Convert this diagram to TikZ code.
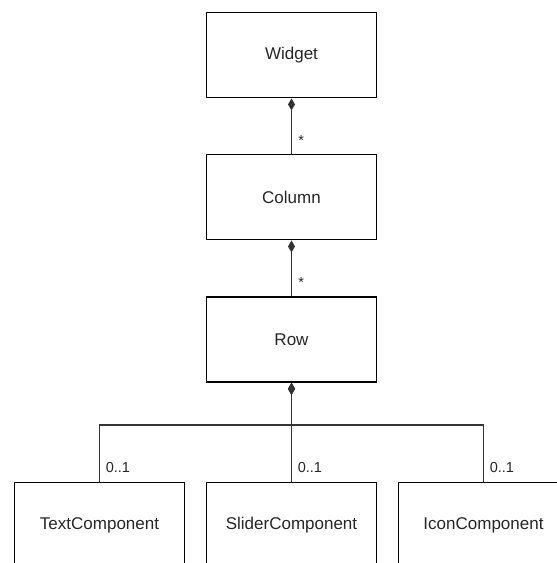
\documentclass[tikz,border=0pt]{standalone}
\usepackage{fontspec}
\setmainfont{Liberation Sans}
\usetikzlibrary{arrows.meta}

\begin{document}
\begin{tikzpicture}[x=1pt, y=-1pt,
    classbox/.style={draw, line width=1.5pt, minimum width=170pt,
                     minimum height=85pt, inner sep=0pt, text=black!85,
                     font=\fontsize{17}{20}\selectfont},
    compose/.style={draw=black!80, line width=1.5pt,
                    {Diamond[length=12pt, width=7pt]}-},
    mult/.style={inner sep=0pt, text=black!85,
                 font=\fontsize{14.5}{17}\selectfont}]
\useasboundingbox (0,0) rectangle (557,563);

\node[classbox] (widget) at (291.5,55.2) {Widget};
\node[classbox] (column) at (291.5,197.2) {Column};
\node[classbox] (row) at (291.5,339.6) {Row};

\draw[compose] (widget) -- (column)
  node[mult, at end, anchor=base west, xshift=6pt, yshift=8.5pt] {*};
\draw[compose] (column) -- (row)
  node[mult, at end, anchor=base west, xshift=6pt, yshift=8.5pt] {*};

% components hanging off the row
\coordinate (bus) at (291.5,425);
\foreach \name/\x/\label in {text/99.5/TextComponent,
    slider/291.5/SliderComponent, icon/483.5/IconComponent}{
  \node[classbox] (\name) at (\x,525) {\label};
  \draw[compose] (row.south) -- (bus) -| (\name.north)
    node[mult, at end, anchor=base west, xshift=5.5pt, yshift=9.3pt] {0..1};
}
\end{tikzpicture}
\end{document}
